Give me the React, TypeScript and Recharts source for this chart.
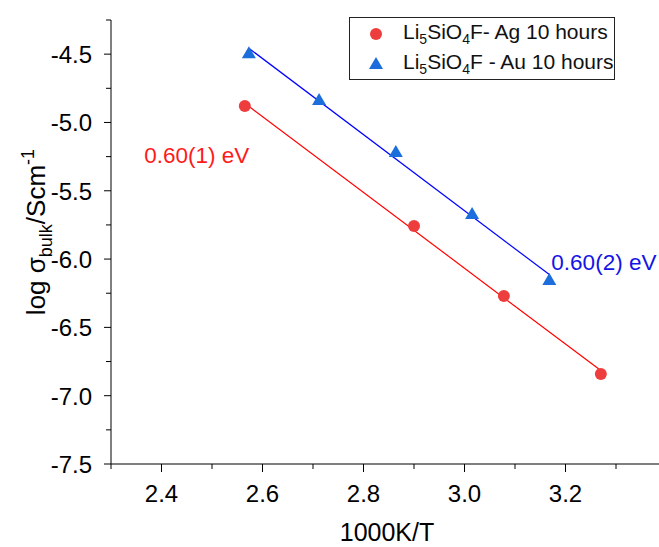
import { ComposedChart, Scatter, Line, XAxis, YAxis, Legend, ReferenceDot } from 'recharts'

// values
const agX = [2.565, 2.9, 3.078, 3.27]
const agY = [-4.88, -5.758, -6.27, -6.841]
const auX = [2.573, 2.712, 2.864, 3.015, 3.168]
const auY = [-4.493, -4.836, -5.217, -5.67, -6.153]

const xTicks = [2.3, 2.4, 2.5, 2.6, 2.7, 2.8, 2.9, 3.0, 3.1, 3.2, 3.3, 3.4]
const xLabels = [2.4, 2.6, 2.8, 3.0, 3.2]
const yTicks = [-7.5, -7.25, -7.0, -6.75, -6.5, -6.25, -6.0, -5.75, -5.5, -5.25, -5.0, -4.75, -4.5, -4.25]
const yLabels = [-7.5, -7.0, -6.5, -6.0, -5.5, -5.0, -4.5]

const RED = '#ee3d3d'
const BLUE = '#1c6edc'
const FONT = '"Liberation Sans", Arial, sans-serif'

// least squares fit, drawn across the range of the points
function fit(xs: number[], ys: number[]) {
  const n = xs.length
  const mx = xs.reduce((a, b) => a + b, 0) / n
  const my = ys.reduce((a, b) => a + b, 0) / n
  let sxy = 0, sxx = 0
  xs.forEach((x, i) => { sxy += (x - mx) * (ys[i] - my); sxx += (x - mx) ** 2 })
  const k = sxy / sxx
  const x0 = Math.min(...xs), x1 = Math.max(...xs)
  return [{ x: x0, y: my + k * (x0 - mx) }, { x: x1, y: my + k * (x1 - mx) }]
}

const agPts = agX.map((x, i) => ({ x, y: agY[i] }))
const auPts = auX.map((x, i) => ({ x, y: auY[i] }))
const agFit = fit(agX, agY)
const auFit = fit(auX, auY)

const isIn = (arr: number[], v: number) => arr.some(a => Math.abs(a - v) < 1e-6)

function XTick({ x, y, payload }: any) {
  const major = isIn(xLabels, payload.value)
  return (
    <g>
      <line x1={x} x2={x} y1={y} y2={y + (major ? 8 : 5)} stroke="#000" />
      {major && (
        <text x={x} y={y + 38} textAnchor="middle" fontSize={24} fontFamily={FONT} fill="#000">
          {payload.value.toFixed(1)}
        </text>
      )}
    </g>
  )
}

function YTick({ x, y, payload }: any) {
  const major = isIn(yLabels, payload.value)
  return (
    <g>
      <line x1={x} x2={x - (major ? 7 : 5)} y1={y} y2={y} stroke="#000" />
      {major && (
        <text x={x - 19} y={y + 9} textAnchor="end" fontSize={24} fontFamily={FONT} fill="#000">
          {payload.value.toFixed(1)}
        </text>
      )}
    </g>
  )
}

const Dot = (p: any) => <circle cx={p.cx} cy={p.cy} r={6} fill={RED} />
const Tri = (p: any) => (
  <polygon points={`${p.cx},${p.cy - 7} ${p.cx - 7},${p.cy + 5} ${p.cx + 7},${p.cy + 5}`} fill={BLUE} />
)

function LegendBox() {
  const row = { display: 'flex', alignItems: 'center', height: 30 }
  const sub = { fontSize: 14 }
  return (
    <div style={{ border: '1px solid #222', width: 264, height: 61, fontFamily: FONT, fontSize: 21, color: '#111', boxSizing: 'content-box' }}>
      <div style={{ ...row, marginTop: 1 }}>
        <svg width={53} height={30}><circle cx={26} cy={15} r={6} fill={RED} /></svg>
        <span>Li<sub style={sub}>5</sub>SiO<sub style={sub}>4</sub>F- Ag 10 hours</span>
      </div>
      <div style={row}>
        <svg width={53} height={30}><polygon points="26,8 19,20 33,20" fill={BLUE} /></svg>
        <span>Li<sub style={sub}>5</sub>SiO<sub style={sub}>4</sub>F - Au 10 hours</span>
      </div>
    </div>
  )
}

const YTitle = () => (
  <text transform="translate(45,232) rotate(-90)" textAnchor="middle" fontSize={26} fontFamily={FONT} fill="#000">
    log σ<tspan dy={7} fontSize={18}>bulk</tspan>
    <tspan dy={-7}>/Scm</tspan>
    <tspan dy={-11} fontSize={18}>-1</tspan>
  </text>
)

const XTitle = () => (
  <text x={387} y={541} textAnchor="middle" fontSize={25} fontFamily={FONT} fill="#000">1000K/T</text>
)

export default function App() {
  return (
    <div style={{ position: 'fixed', top: 0, left: 0, width: 659, height: 547, overflow: 'hidden', background: '#fff' }}>
      <ComposedChart width={700} height={547} margin={{ top: 20, right: 33.5, left: 0, bottom: 0 }}>
        <XAxis
          type="number"
          dataKey="x"
          domain={[2.3, 3.4]}
          ticks={xTicks}
          interval={0}
          allowDataOverflow
          height={83}
          tickSize={0}
          tickMargin={0}
          tickLine={false}
          axisLine={{ stroke: '#000' }}
          tick={<XTick />}
          label={{ content: () => <XTitle /> }}
        />
        <YAxis
          type="number"
          dataKey="y"
          domain={[-7.5, -4.25]}
          ticks={yTicks}
          interval={0}
          allowDataOverflow
          width={111}
          tickSize={0}
          tickMargin={0}
          tickLine={false}
          axisLine={{ stroke: '#000' }}
          tick={<YTick />}
          label={{ content: () => <YTitle /> }}
        />
        <Legend
          layout="vertical"
          align="center"
          verticalAlign="middle"
          content={() => <LegendBox />}
          wrapperStyle={{ top: 17, left: 349, width: 266 }}
        />
        <Line data={agFit} dataKey="y" stroke="#ff0000" strokeWidth={1.2} dot={false} isAnimationActive={false} legendType="none" />
        <Line data={auFit} dataKey="y" stroke="#0000ff" strokeWidth={1.2} dot={false} isAnimationActive={false} legendType="none" />
        <Scatter data={agPts} dataKey="y" shape={Dot} isAnimationActive={false} />
        <Scatter data={auPts} dataKey="y" shape={Tri} isAnimationActive={false} />
        <ReferenceDot x={2.47} y={-5.24} r={0} label={{ value: '0.60(1) eV', position: 'center', fill: '#ff1a1a', fontSize: 22.5, fontFamily: FONT }} />
        <ReferenceDot x={3.276} y={-6.022} r={0} label={{ value: '0.60(2) eV', position: 'center', fill: '#1414e6', fontSize: 22.5, fontFamily: FONT }} />
      </ComposedChart>
    </div>
  )
}
